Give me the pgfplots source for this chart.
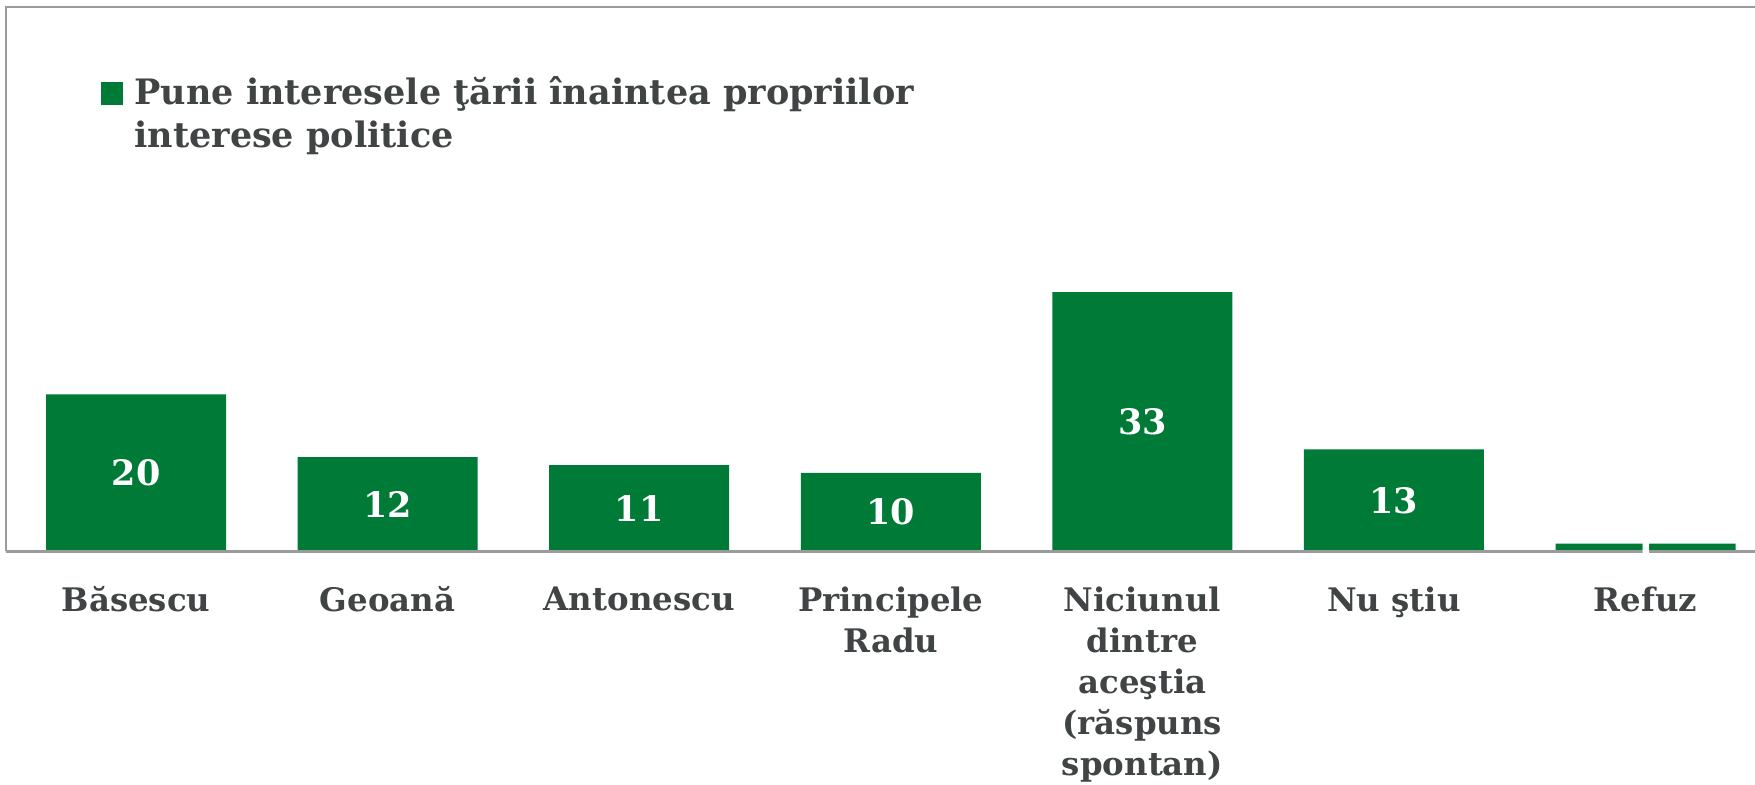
\documentclass[border=0pt]{standalone}
\usepackage{pgfplots}
\pgfplotsset{compat=1.18}
\usepackage{pgfplotstable}
\usepackage{fontspec}
\setmainfont{DejaVu Serif}
\definecolor{bargreen}{RGB}{0,122,55}
\definecolor{textgray}{RGB}{64,68,68}
\definecolor{linegray}{RGB}{155,155,155}
\pgfplotstableread{
x v
0 20
1 12
2 11
3 10
4 33
5 13
6 1
}\datatable
\begin{document}
\begin{tikzpicture}
\useasboundingbox (0,0) rectangle (877.5pt,392.5pt);
\begin{axis}[
  at={(3pt,116.75pt)}, anchor=south west,
  width=874.5pt, height=272.25pt, scale only axis,
  xmin=-0.517, xmax=6.435, ymin=0, ymax=69.3,
  axis line style={draw=none},
  ytick=\empty,
  xtick=data,
  xticklabels={Băsescu, Geoană, Antonescu, {Principele\\Radu}, {Niciunul\\dintre\\aceştia\\(răspuns\\spontan)}, Nu ştiu, Refuz},
  xtick style={draw=none},
  major tick length=0pt,
  xticklabel style={align=center, font=\fontsize{16.2}{20.5}\selectfont\bfseries, text=textgray, anchor=north, yshift=-14pt},
  legend style={at={(0.0543,0.877)}, anchor=north west, draw=none, fill=none, inner sep=0pt,
    font=\fontsize{17.5}{21.8}\selectfont\bfseries, text=textgray,
    nodes={align=left, inner sep=1pt}},
  legend cell align=left,
  legend image code/.code={\fill[bargreen] (0pt,4.5pt) rectangle (11pt,15.7pt); \path (15.5pt,10pt);},
  clip=false,
]
\addplot[ybar, bar width=0.7155, fill=bargreen, draw=none,
  point meta=explicit symbolic,
  nodes near coords={\pgfplotspointmeta},
  every node near coord/.append style={anchor=center, text=white,
    font=\fontsize{17.5}{20}\selectfont\bfseries, yshift={-1.9643pt*\pgfplotspointmeta}}
] table[x=x,y=v,meta=v] {\datatable};
\addlegendentry{Pune interesele ţării înaintea propriilor\\interese politice}
\draw[linegray, line width=1.1pt] (rel axis cs:0,0) -- (rel axis cs:0,1) -- (rel axis cs:1.002,1);
\draw[linegray, line width=1.3pt] (rel axis cs:0,0) -- (rel axis cs:1.002,0);
\end{axis}
\end{tikzpicture}
\end{document}
